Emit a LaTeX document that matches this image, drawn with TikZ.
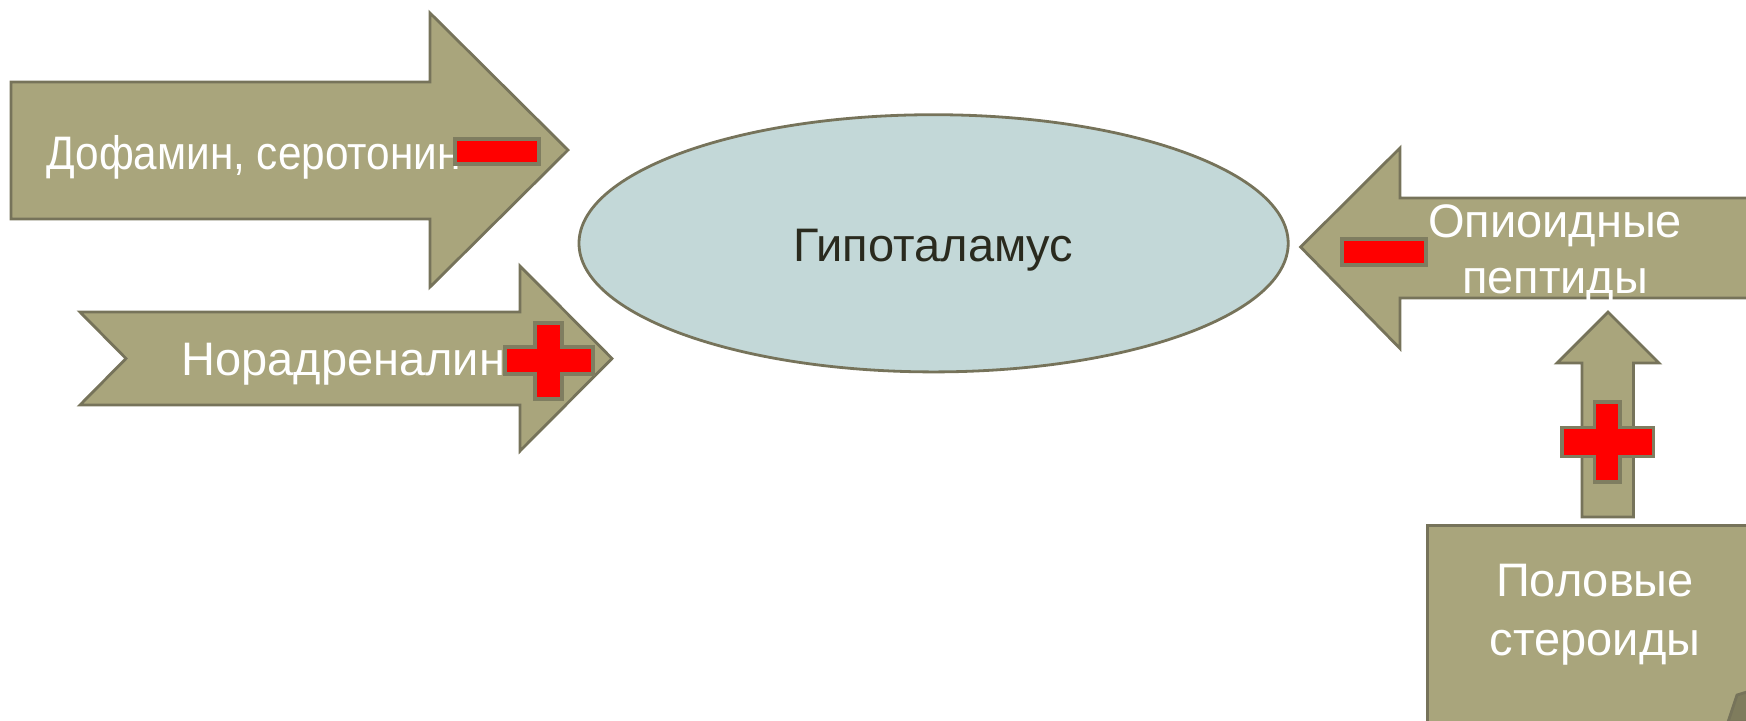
\documentclass[tikz,border=0pt]{standalone}
\usepackage{fontspec}
\setmainfont{Liberation Sans}
\newfontfamily\condfont[FakeStretch=0.9]{Liberation Sans}
\usetikzlibrary{shapes.geometric}
\definecolor{olive}{HTML}{A9A57C}
\definecolor{oline}{HTML}{76735A}
\definecolor{hypfill}{HTML}{C3D8D8}
\definecolor{hyptext}{HTML}{2A2A1E}
\definecolor{signline}{HTML}{7F7D60}
\tikzset{
  blockarrow/.style={fill=olive,draw=oline,line width=1.4pt,line join=miter},
  lbl/.style={text=white,inner sep=0pt,font=\fontsize{23.5}{28}\selectfont,align=center},
  sign/.style={fill=red,draw=signline,line width=1.6pt},
}
\begin{document}
\begin{tikzpicture}[x=0.5pt,y=-0.5pt]
\useasboundingbox (0,0) rectangle (1746,720);
\clip (0,0) rectangle (1746,720);
% Dofamin arrow
\draw[blockarrow] (11,82) -- (430,82) -- (430,13) -- (568,150) -- (430,287) -- (430,219) -- (11,219) -- cycle;
\node[lbl,anchor=west,font=\condfont\fontsize{23.5}{28}\selectfont] (dof) at (46,157) {Дофамин, серотонин};
\draw[sign] (455,139) rectangle (539,164);
% Noradrenalin arrow
\draw[blockarrow] (80,312) -- (520,312) -- (520,266) -- (612,358.5) -- (520,451) -- (520,405) -- (80,405) -- (126,358.5) -- cycle;
\node[lbl,anchor=west] (nor) at (181,364) {Норадреналин};
\draw[sign] (535,323) -- (562,323) -- (562,347) -- (593,347) -- (593,374) -- (562,374) -- (562,399) -- (535,399) -- (535,374) -- (505,374) -- (505,347) -- (535,347) -- cycle;
% Hypothalamus
\node[ellipse,fill=hypfill,draw=oline,line width=1.4pt,minimum width=354.6pt,minimum height=128.6pt,inner sep=0pt] (hyp) at (933.6,243.3) {};
\node[text=hyptext,font=\fontsize{23.5}{28}\selectfont,inner sep=0pt] (hyptxt) at (933.6,250) {Гипоталамус};
% Opioid arrow
\draw[blockarrow] (1770,198) -- (1400,198) -- (1400,148) -- (1300.6,247) -- (1400,348.5) -- (1400,298) -- (1770,298);
\node[lbl] (opi) at (1555,254) {Опиоидные\\пептиды};
\draw[sign] (1342,239) rectangle (1426,265);
% Up arrow
\draw[blockarrow] (1582,517) -- (1582,363) -- (1557,363) -- (1608,312) -- (1659,363) -- (1633.5,363) -- (1633.5,517) -- cycle;
\draw[sign] (1594.5,402) -- (1620,402) -- (1620,427.5) -- (1653.5,427.5) -- (1653.5,456.5) -- (1620,456.5) -- (1620,482) -- (1594.5,482) -- (1594.5,456.5) -- (1562,456.5) -- (1562,427.5) -- (1594.5,427.5) -- cycle;
% Sex steroids box
\draw[blockarrow] (1427.5,525.5) rectangle (1780,760);
\node[lbl,font=\fontsize{23.5}{29.5}\selectfont] (ster) at (1595,615) {Половые\\стероиды};
\draw[fill=olive!75!black,draw=oline,line width=1.4pt] (1728,722) -- (1737,695) -- (1750,691) -- (1750,722) -- cycle;
\end{tikzpicture}
\end{document}
